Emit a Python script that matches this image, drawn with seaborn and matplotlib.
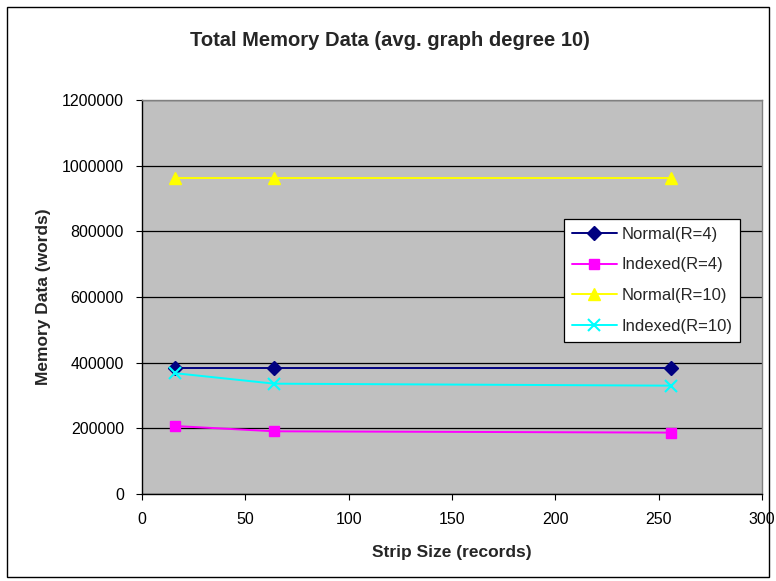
import matplotlib
matplotlib.use("Agg")
import matplotlib.pyplot as plt
import matplotlib.ticker as mticker
from matplotlib.patches import Rectangle
import seaborn as sns
import pandas as pd

strip_sizes = [16, 64, 256]
normal_r4 = [385000, 385000, 385000]
indexed_r4 = [207000, 191000, 187000]
normal_r10 = [963000, 963000, 963000]
indexed_r10 = [368000, 336000, 330000]
series_names = ["Normal(R=4)", "Indexed(R=4)", "Normal(R=10)", "Indexed(R=10)"]
colors = ["#000080", "#FF00FF", "#FFFF00", "#00FFFF"]
markers = ["D", "s", "^", "x"]
msizes = [7, 7, 8, 9]
x_ticks = [0, 50, 100, 150, 200, 250, 300]
y_ticks = [0, 200000, 400000, 600000, 800000, 1000000, 1200000]

sns.set_theme(style="white")
plt.rcParams["font.family"] = ["Liberation Sans", "DejaVu Sans"]

fig = plt.figure(figsize=(7.76, 5.81), dpi=100)
ax = fig.add_axes([142 / 776, 1 - 494 / 581, 620 / 776, 394 / 581])
ax.set_facecolor("#C0C0C0")

for name, vals, c, m, ms in zip(series_names,
                                [normal_r4, indexed_r4, normal_r10, indexed_r10],
                                colors, markers, msizes):
    d = pd.DataFrame({"Strip": strip_sizes, "Memory": vals})
    sns.lineplot(data=d, x="Strip", y="Memory", color=c, marker=m,
                 markersize=ms, markeredgecolor=c, markerfacecolor=c,
                 markeredgewidth=1.5 if m == "x" else 1.0,
                 linewidth=1.4, label=name, ax=ax)

ax.set_xlim(0, 300)
ax.set_ylim(0, 1200000)
ax.set_xticks(x_ticks)
ax.set_yticks(y_ticks)
ax.yaxis.set_major_formatter(mticker.FuncFormatter(lambda v, p: "%d" % v))
ax.grid(axis="y", color="black", linewidth=0.9)
ax.set_axisbelow(True)
ax.tick_params(axis="both", direction="out", length=4, width=0.8, color="black",
               labelsize=11.5, colors="black", left=True, bottom=True)
ax.tick_params(axis="x", pad=9)
ax.tick_params(axis="y", pad=9)
for s in ["left", "bottom"]:
    ax.spines[s].set_color("black")
    ax.spines[s].set_linewidth(1.0)
for s in ["top", "right"]:
    ax.spines[s].set_color("#808080")
    ax.spines[s].set_linewidth(1.0)

ax.set_xlabel("Strip Size (records)", fontsize=12.5, fontweight="bold", labelpad=13)
ax.set_ylabel("Memory Data (words)", fontsize=12.5, fontweight="bold", labelpad=8)

leg = ax.legend(loc="upper left", bbox_to_anchor=((564 - 142) / 620, (494 - 219) / 394),
                frameon=True, fancybox=False, fontsize=12, borderpad=0.45,
                labelspacing=0.95, handlelength=2.7, handletextpad=0.3,
                borderaxespad=0)
leg.get_frame().set_edgecolor("black")
leg.get_frame().set_facecolor("white")
leg.get_frame().set_linewidth(0.9)
leg.get_frame().set_alpha(1)

fig.text(390 / 776, 1 - 40 / 581, "Total Memory Data (avg. graph degree 10)",
         ha="center", va="center", fontsize=14.5, fontweight="bold")

fig.patches.append(Rectangle((7 / 776, 4 / 581), 762 / 776, 570 / 581,
                             transform=fig.transFigure, fill=False,
                             edgecolor="black", linewidth=1.0))

fig.savefig("out.png", dpi=100)
